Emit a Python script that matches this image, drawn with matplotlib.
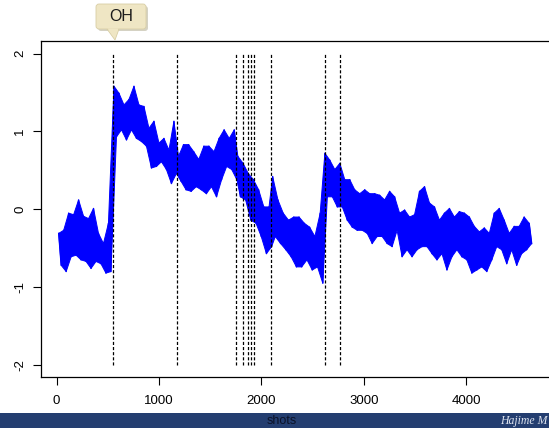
import numpy as np
import matplotlib
matplotlib.use("Agg")
import matplotlib.pyplot as plt
from matplotlib.patches import FancyBboxPatch, Polygon, Rectangle

plt.rcParams["font.family"] = ["Liberation Sans", "DejaVu Sans"]

# change points (shots)
change_points = [553, 1178, 1756, 1819, 1873, 1902, 1932, 2098, 2621, 2765]

# segments of the series: first / last shot of each piece
seg_start = [20, 560, 1190, 1770, 2110, 2620]
seg_end = [530, 1170, 1760, 2100, 2600, 4640]

# upper / lower swings, per segment
hi1 = [-0.31, -0.27, -0.05, -0.07, 0.12, -0.09, -0.12, 0.01, -0.31, -0.44, -0.18]
lo1 = [-0.72, -0.80, -0.61, -0.59, -0.65, -0.67, -0.76, -0.67, -0.70, -0.82, -0.80]

hi2 = [1.58, 1.49, 1.34, 1.41, 1.58, 1.34, 1.32, 1.04, 1.13, 0.85, 0.91, 0.76, 1.13]
lo2 = [0.93, 1.02, 0.89, 1.02, 0.91, 0.87, 0.81, 0.53, 0.55, 0.61, 0.51, 0.33, 0.46]

hi3 = [0.68, 0.83, 0.83, 0.74, 0.64, 0.81, 0.81, 0.74, 0.91, 1.02, 0.91, 1.02]
lo3 = [0.36, 0.25, 0.23, 0.29, 0.25, 0.20, 0.29, 0.16, 0.38, 0.55, 0.51, 0.38]

hi4 = [0.68, 0.59, 0.46, 0.38, 0.25, 0.03, 0.03]
lo4 = [0.16, 0.12, -0.14, -0.18, -0.35, -0.57, -0.48]

hi5 = [0.42, 0.12, -0.05, -0.14, -0.10, -0.10, -0.18, -0.23, -0.35, -0.05]
lo5 = [-0.35, -0.44, -0.52, -0.61, -0.74, -0.74, -0.65, -0.78, -0.74, -0.95]

hi6 = [0.72, 0.63, 0.51, 0.59, 0.38, 0.38, 0.25, 0.20, 0.25, 0.20, 0.20,
       0.18, 0.12, 0.23, 0.16, -0.05, -0.01, -0.10, -0.07, 0.23, 0.29, 0.08,
       0.03, -0.14, -0.05, 0.01, -0.10, -0.03, -0.05, -0.10, -0.22, -0.29,
       -0.24, -0.31, -0.05, 0.01, -0.14, -0.31, -0.22, -0.22, -0.10, -0.18]
lo6 = [0.16, 0.16, 0.03, 0.03, -0.14, -0.23, -0.27, -0.27, -0.31, -0.44, -0.35,
       -0.35, -0.44, -0.48, -0.27, -0.61, -0.52, -0.61, -0.52, -0.48, -0.48, -0.57,
       -0.65, -0.57, -0.78, -0.61, -0.52, -0.61, -0.65, -0.82, -0.78, -0.74,
       -0.80, -0.65, -0.48, -0.52, -0.70, -0.52, -0.72, -0.57, -0.52, -0.44]

his = [hi1, hi2, hi3, hi4, hi5, hi6]
los = [lo1, lo2, lo3, lo4, lo5, lo6]

xticks = [0, 1000, 2000, 3000, 4000]
yticks = [-2, -1, 0, 1, 2]

# top edge and bottom edge of the noisy trace, lows sit half a step after highs
top_x, top_y, bot_x, bot_y = [], [], [], []
zig_x, zig_y = [], []
for s, e, hi, lo in zip(seg_start, seg_end, his, los):
    xx = np.linspace(s, e, 2 * len(hi))
    top_x.append(xx[0::2])
    top_y.append(hi)
    bot_x.append(xx[1::2])
    bot_y.append(lo)
    zig_x.append(xx)
    zig_y.append(np.ravel(np.column_stack([hi, lo])))
top_x = np.concatenate(top_x)
top_y = np.concatenate(top_y)
bot_x = np.concatenate(bot_x)
bot_y = np.concatenate(bot_y)

W, H = 549, 428
fig = plt.figure(figsize=(W / 100, H / 100), dpi=100)

# main plot (right edge runs off the slide)
ax = fig.add_axes([40.7 / W, (H - 377.3) / H, (560 - 40.7) / W, 336.0 / H])
ax.fill(np.concatenate([top_x, bot_x[::-1]]), np.concatenate([top_y, bot_y[::-1]]),
        facecolor="#0000ff", edgecolor="#0000ff", lw=0.7, zorder=3)
ax.plot(np.concatenate(zig_x), np.concatenate(zig_y), color="#0000ff", lw=1.0,
        zorder=3)
# dashed change-point lines are drawn on top of the trace
ax.vlines(change_points, -2, 2, colors="black", linestyles=(0, (2.5, 1.6)),
          lw=0.9, zorder=4)

ax.set_xlim(-156, 4917)
ax.set_ylim(-2.158, 2.157)
ax.set_xticks(xticks)
ax.set_yticks(yticks)
ax.set_yticklabels([str(v) for v in yticks], rotation=90, va="center")
ax.tick_params(axis="both", direction="out", length=5.5, width=0.8,
               labelsize=9.5, colors="black")
ax.tick_params(axis="x", pad=7)
ax.tick_params(axis="y", pad=5)
for sp in ax.spines.values():
    sp.set_linewidth(0.9)
    sp.set_color("black")
ax.spines["right"].set_visible(False)

# overlay in pixel coordinates for the slide decorations
ov = fig.add_axes([0, 0, 1, 1], zorder=10)
ov.set_xlim(0, W)
ov.set_ylim(H, 0)
ov.axis("off")
ov.patch.set_alpha(0)

# bottom banner
ov.add_patch(Rectangle((0, 413), W, 15, facecolor="#243e70", edgecolor="none"))
ov.text(282, 427.5, "shots", ha="center", va="bottom", fontsize=9,
        color="#0b1228")
ov.text(547, 421, "Hajime M", ha="right", va="center", fontsize=8.5,
        color="#dfe5f0", family="Liberation Serif", style="italic")

# "OH" callout
ov.add_patch(FancyBboxPatch((98, 6), 50, 25, boxstyle="round,pad=0,rounding_size=3",
                            facecolor="#b9b49c", edgecolor="none", alpha=0.6))
ov.add_patch(Polygon([[107, 29], [119, 29], [115, 40]], closed=True,
                     facecolor="#efe6c4", edgecolor="#d8cea4", lw=0.6))
ov.add_patch(FancyBboxPatch((96, 4), 50, 25, boxstyle="round,pad=0,rounding_size=3",
                            facecolor="#efe6c4", edgecolor="#d8cea4", lw=0.6))
ov.add_patch(Polygon([[107.6, 28.5], [118.4, 28.5], [114.7, 38.5]], closed=True,
                     facecolor="#efe6c4", edgecolor="none"))
ov.text(121, 16.5, "OH", ha="center", va="center", fontsize=11.5, color="#1a1a1a")

fig.savefig("out.png", dpi=100)
